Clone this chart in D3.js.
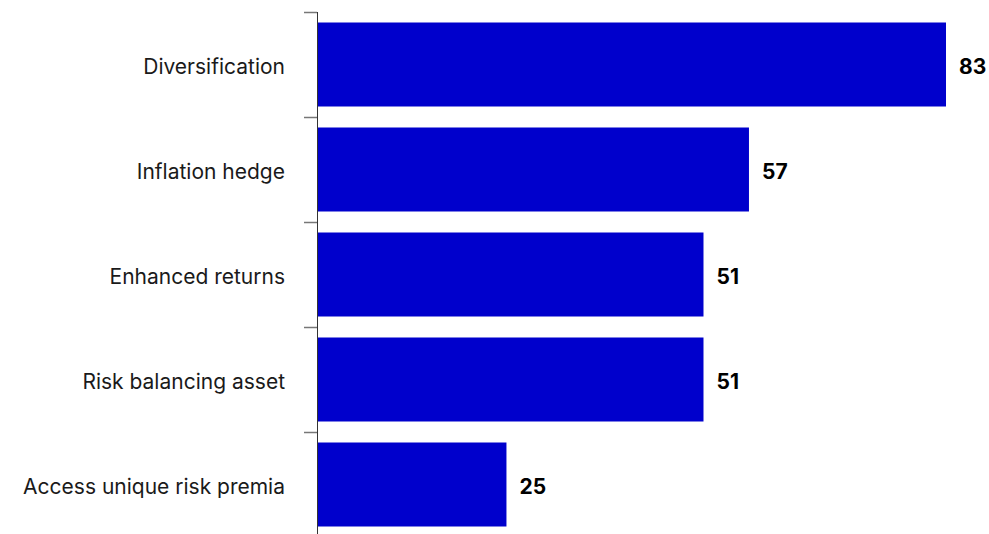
<!DOCTYPE html>
<html>
<head>
<meta charset="utf-8">
<script src="https://cdn.jsdelivr.net/npm/d3@7/dist/d3.min.js"></script>
<style>
  html, body { margin: 0; padding: 0; background: #fff; }
  svg { display: block; }
  text { font-family: Inter, "Noto Sans", sans-serif; }
</style>
</head>
<body>
<svg id="chart" width="989" height="534"></svg>
<script>
// Reasons for holding the asset class (share of respondents)
const categories = [
  "Diversification",
  "Inflation hedge",
  "Enhanced returns",
  "Risk balancing asset",
  "Access unique risk premia"
];
const values = [83, 57, 51, 51, 25];

const width = 989, height = 534;
const margin = { top: 12, right: 43, bottom: -3, left: 317 };

const svg = d3.select("#chart");

const x = d3.scaleLinear()
  .domain([0, 83])
  .range([margin.left, width - margin.right]);

const y = d3.scaleBand()
  .domain(categories)
  .range([margin.top, height - margin.bottom])
  .paddingInner(0.2)
  .paddingOuter(0.1);

// bars
svg.append("g")
  .selectAll("rect")
  .data(categories)
  .join("rect")
  .attr("x", x(0) + 1)
  .attr("y", d => y(d))
  .attr("width", (d, i) => x(values[i]) - x(0) - 1)
  .attr("height", y.bandwidth())
  .attr("fill", "#0000cc");

// category axis: vertical rule with ticks at band edges
const axis = svg.append("g");
axis.append("line")
  .attr("x1", x(0) + 0.5).attr("x2", x(0) + 0.5)
  .attr("y1", margin.top).attr("y2", height)
  .attr("stroke", "#333").attr("stroke-width", 1);

axis.selectAll("line.tick")
  .data(categories)
  .join("line")
  .attr("class", "tick")
  .attr("x1", x(0) - 13).attr("x2", x(0))
  .attr("y1", d => Math.round(y(d) - y.step() * 0.1) + 0.5)
  .attr("y2", d => Math.round(y(d) - y.step() * 0.1) + 0.5)
  .attr("stroke", "#777").attr("stroke-width", 1.5);

axis.selectAll("text")
  .data(categories)
  .join("text")
  .attr("x", x(0) - 32)
  .attr("y", d => y(d) + y.bandwidth() / 2)
  .attr("dy", "0.43em")
  .attr("text-anchor", "end")
  .attr("font-size", 21)
  .attr("fill", "#1a1a1a")
  .text(d => d);

// value labels
svg.append("g")
  .selectAll("text")
  .data(categories)
  .join("text")
  .attr("x", (d, i) => x(values[i]) + 13)
  .attr("y", d => y(d) + y.bandwidth() / 2)
  .attr("dy", "0.43em")
  .attr("font-size", 21)
  .attr("font-weight", 700)
  .attr("fill", "#000")
  .text((d, i) => values[i]);
</script>
</body>
</html>
